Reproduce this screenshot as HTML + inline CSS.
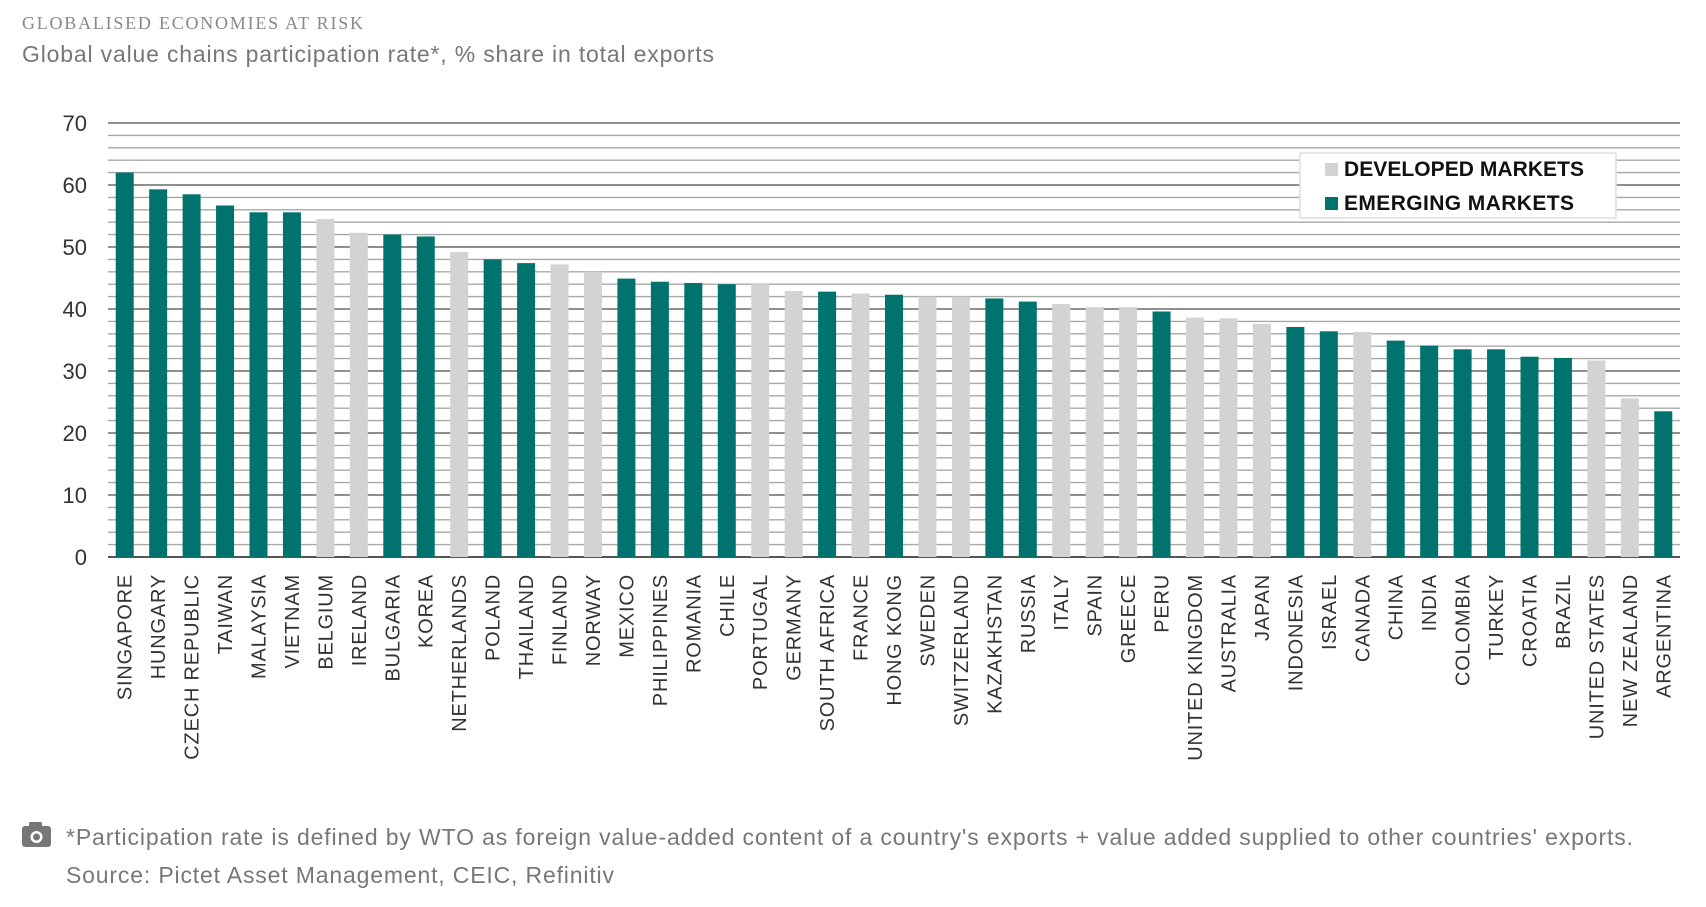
<!DOCTYPE html>
<html><head><meta charset="utf-8"><style>
html,body{margin:0;padding:0;background:#fff;width:1706px;height:907px;overflow:hidden}
svg{display:block}
</style></head><body>
<svg id="chart" width="1706" height="907" xmlns="http://www.w3.org/2000/svg">
<text x="22" y="29" font-family="Liberation Serif, serif" font-size="18" fill="#888" textLength="341">GLOBALISED ECONOMIES AT RISK</text>
<text x="22" y="62" font-family="Liberation Sans, sans-serif" font-size="23" fill="#777" textLength="692">Global value chains participation rate*, % share in total exports</text>
<g id="grid"></g>
<g id="yticks"></g>
<g id="bars"></g>
<g id="xlabels"></g>
<g>
<rect x="1300" y="153" width="316" height="65" fill="#fff" stroke="#ddd" stroke-width="1.5"/>
<rect x="1325" y="163" width="13" height="13" fill="#d3d3d3"/>
<text x="1344" y="176" font-family="Liberation Sans, sans-serif" font-weight="bold" font-size="21" fill="#111" textLength="240">DEVELOPED MARKETS</text>
<rect x="1325" y="197" width="13" height="13" fill="#00736e"/>
<text x="1344" y="210" font-family="Liberation Sans, sans-serif" font-weight="bold" font-size="21" fill="#111" textLength="230">EMERGING MARKETS</text>
</g>
<g>
<rect x="22" y="826" width="29" height="21" rx="3" fill="#777"/>
<rect x="29" y="822" width="13" height="6" rx="1.5" fill="#777"/>
<circle cx="36.5" cy="837" r="6" fill="#fff"/>
<circle cx="36.5" cy="837" r="3.5" fill="#777"/>
</g>
<text x="66" y="845" font-family="Liberation Sans, sans-serif" font-size="23" fill="#777" textLength="1567">*Participation rate is defined by WTO as foreign value-added content of a country's exports + value added supplied to other countries' exports.</text>
<text x="66" y="883" font-family="Liberation Sans, sans-serif" font-size="23" fill="#777" textLength="548">Source: Pictet Asset Management, CEIC, Refinitiv</text>
</svg>
<script>
const countries=["SINGAPORE","HUNGARY","CZECH REPUBLIC","TAIWAN","MALAYSIA","VIETNAM","BELGIUM","IRELAND","BULGARIA","KOREA","NETHERLANDS","POLAND","THAILAND","FINLAND","NORWAY","MEXICO","PHILIPPINES","ROMANIA","CHILE","PORTUGAL","GERMANY","SOUTH AFRICA","FRANCE","HONG KONG","SWEDEN","SWITZERLAND","KAZAKHSTAN","RUSSIA","ITALY","SPAIN","GREECE","PERU","UNITED KINGDOM","AUSTRALIA","JAPAN","INDONESIA","ISRAEL","CANADA","CHINA","INDIA","COLOMBIA","TURKEY","CROATIA","BRAZIL","UNITED STATES","NEW ZEALAND","ARGENTINA"];
const values=[62,59.3,58.5,56.7,55.6,55.6,54.5,52.3,52.0,51.7,49.2,48.0,47.4,47.2,46.0,44.9,44.4,44.2,44.0,44.0,42.9,42.8,42.5,42.3,42.0,42.0,41.7,41.2,40.8,40.3,40.3,39.6,38.6,38.5,37.6,37.1,36.4,36.3,34.9,34.1,33.5,33.5,32.3,32.1,31.7,25.6,23.5];
const groups=["E","E","E","E","E","E","D","D","E","E","D","E","E","D","D","E","E","E","E","D","D","E","D","E","D","D","E","E","D","D","D","E","D","D","D","E","E","D","E","E","E","E","E","E","D","D","E"];
const yTicks=[0,10,20,30,40,50,60,70];
const NS="http://www.w3.org/2000/svg";
const X0=108,X1=1680,Y0=557,Y70=123;
const y=v=>Y0-(v/70)*(Y0-Y70);
const band=(X1-X0)/countries.length;
const xc=i=>X0+band*(i+0.5);
function mk(t,a,p){const e=document.createElementNS(NS,t);for(const k in a)e.setAttribute(k,a[k]);p.appendChild(e);return e;}
const grid=document.getElementById('grid');
for(let v=2;v<=70;v+=2){
 const major=v%10===0;
 const l=mk('line',{x1:X0,x2:X1,y1:y(v),y2:y(v),stroke:major?'#6a6a6a':'#a8a8a8','stroke-width':major?1.6:1.4},grid);
 
 
}
const yt=document.getElementById('yticks');
yTicks.forEach(v=>{
 const t=mk('text',{x:87,y:y(v)+8,'text-anchor':'end','font-family':'Liberation Sans, sans-serif','font-size':22,fill:'#333'},yt);
 t.textContent=v;
 
 
});
const bars=document.getElementById('bars');
const xl=document.getElementById('xlabels');
countries.forEach((c,i)=>{
 const bw=18;
 const r=mk('rect',{x:xc(i)-bw/2,y:y(values[i]),width:bw,height:Y0-y(values[i]),fill:groups[i]==='E'?'#00736e':'#d3d3d3'},bars);
 
 
 const t=mk('text',{x:0,y:0,transform:`translate(${xc(i)+7},574) rotate(-90)`,'text-anchor':'end','font-family':'Liberation Sans, sans-serif','font-size':20,'letter-spacing':0.8,fill:'#333'},xl);
 t.textContent=c;
 
 
});
const ax=mk('line',{x1:X0,x2:X1,y1:Y0,y2:Y0,stroke:'#555','stroke-width':2},grid);


</script>
</body></html>
